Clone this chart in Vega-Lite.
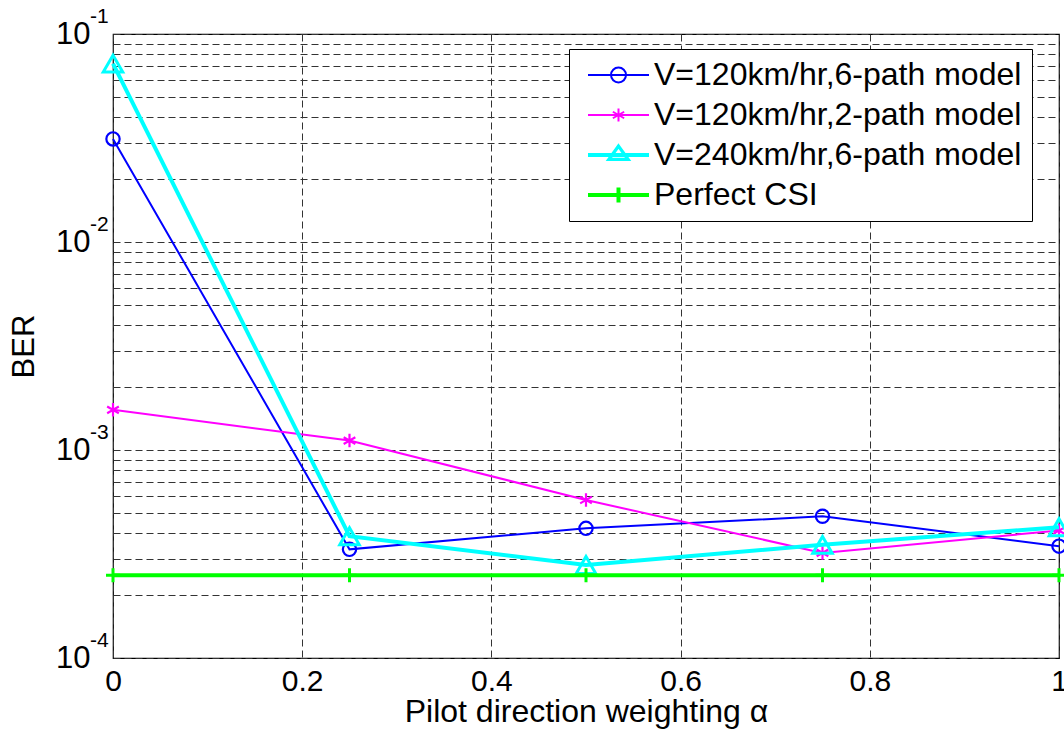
{
  "$schema": "https://vega.github.io/schema/vega-lite/v6.json",
  "autosize": "none",
  "width": 946,
  "height": 624,
  "padding": {"left": 113, "top": 34, "right": 5, "bottom": 75},
  "background": "white",
  "config": {
    "font": "Liberation Sans",
    "view": {"stroke": "black", "strokeWidth": 1.2}
  },
  "datasets": {
    "ber": [
      {"alpha": 0, "ber": 0.0313, "series": "V=120km/hr,6-path model"},
      {"alpha": 0.25, "ber": 0.000333, "series": "V=120km/hr,6-path model"},
      {"alpha": 0.5, "ber": 0.00042, "series": "V=120km/hr,6-path model"},
      {"alpha": 0.75, "ber": 0.00048, "series": "V=120km/hr,6-path model"},
      {"alpha": 1, "ber": 0.000345, "series": "V=120km/hr,6-path model"},
      {"alpha": 0, "ber": 0.00156, "series": "V=120km/hr,2-path model"},
      {"alpha": 0.25, "ber": 0.00111, "series": "V=120km/hr,2-path model"},
      {"alpha": 0.5, "ber": 0.000575, "series": "V=120km/hr,2-path model"},
      {"alpha": 0.75, "ber": 0.00032, "series": "V=120km/hr,2-path model"},
      {"alpha": 1, "ber": 0.00041, "series": "V=120km/hr,2-path model"},
      {"alpha": 0, "ber": 0.072, "series": "V=240km/hr,6-path model"},
      {"alpha": 0.25, "ber": 0.000385, "series": "V=240km/hr,6-path model"},
      {"alpha": 0.5, "ber": 0.00028, "series": "V=240km/hr,6-path model"},
      {"alpha": 0.75, "ber": 0.00035, "series": "V=240km/hr,6-path model"},
      {"alpha": 1, "ber": 0.000425, "series": "V=240km/hr,6-path model"},
      {"alpha": 0, "ber": 0.00025, "series": "Perfect CSI"},
      {"alpha": 0.25, "ber": 0.00025, "series": "Perfect CSI"},
      {"alpha": 0.5, "ber": 0.00025, "series": "Perfect CSI"},
      {"alpha": 0.75, "ber": 0.00025, "series": "Perfect CSI"},
      {"alpha": 1, "ber": 0.00025, "series": "Perfect CSI"}
    ],
    "exps": [
      {"alpha": 0, "ber": 0.1, "e": "-1"},
      {"alpha": 0, "ber": 0.01, "e": "-2"},
      {"alpha": 0, "ber": 0.001, "e": "-3"},
      {"alpha": 0, "ber": 0.0001, "e": "-4"}
    ]
  },
  "data": {"name": "ber"},
  "encoding": {
    "x": {
      "field": "alpha", "type": "quantitative",
      "scale": {"domain": [0, 1], "nice": false, "zero": false},
      "axis": {
        "title": "Pilot direction weighting α",
        "values": [0, 0.2, 0.4, 0.6, 0.8, 1],
        "format": "~g",
        "domain": false,
        "ticks": false,
        "labelPadding": 8,
        "labelFontSize": 30,
        "labelColor": "black",
        "labelFlush": false,
        "labelBaseline": "top",
        "titleFontSize": 32,
        "titleFontWeight": "normal",
        "titleColor": "black",
        "titlePadding": 0,
        "grid": true,
        "gridColor": "#333333",
        "gridDash": [7, 4],
        "gridWidth": 1
      }
    },
    "y": {
      "field": "ber", "type": "quantitative",
      "scale": {"type": "log", "domain": [0.0001, 0.1], "nice": false},
      "axis": {
        "title": "BER",
        "values": [0.0001, 0.0002, 0.0003, 0.0004, 0.0005, 0.0006, 0.0007, 0.0008, 0.0009, 0.001, 0.002, 0.003, 0.004, 0.005, 0.006, 0.007, 0.008, 0.009, 0.01, 0.02, 0.03, 0.04, 0.05, 0.06, 0.07, 0.08, 0.09, 0.1],
        "labelExpr": "abs(log(datum.value)/LN10 - round(log(datum.value)/LN10)) < 0.001 ? '10' : ''",
        "domain": false,
        "ticks": false,
        "labelPadding": 23,
        "labelFontSize": 31,
        "labelColor": "black",
        "labelFlush": false,
        "labelBaseline": "middle",
        "titleFontSize": 31,
        "titleFontWeight": "normal",
        "titleColor": "black",
        "titlePadding": 15,
        "grid": true,
        "gridColor": "#333333",
        "gridDash": [7, 4],
        "gridWidth": 1
      }
    }
  },
  "layer": [
    {
      "transform": [{"filter": "datum.series === 'V=120km/hr,6-path model'"}],
      "mark": {"type": "line", "clip": false, "stroke": "#0000ff", "strokeWidth": 2,
        "point": {"shape": "circle", "filled": false, "size": 177, "stroke": "#0000ff", "strokeWidth": 2.2}}
    },
    {
      "transform": [{"filter": "datum.series === 'V=120km/hr,2-path model'"}],
      "mark": {"type": "line", "clip": false, "stroke": "#ff00ff", "strokeWidth": 2,
        "point": {"shape": "M0,-1L0,1M-0.87,-0.5L0.87,0.5M-0.87,0.5L0.87,-0.5", "filled": false, "size": 180, "stroke": "#ff00ff", "strokeWidth": 2.2}}
    },
    {
      "transform": [{"filter": "datum.series === 'V=240km/hr,6-path model'"}],
      "mark": {"type": "line", "clip": false, "stroke": "#00ffff", "strokeWidth": 4,
        "point": {"shape": "triangle-up", "filled": false, "size": 380, "stroke": "#00ffff", "strokeWidth": 3}}
    },
    {
      "transform": [{"filter": "datum.series === 'Perfect CSI'"}],
      "mark": {"type": "line", "clip": false, "stroke": "#00ff00", "strokeWidth": 4,
        "point": {"shape": "M-1,0L1,0M0,-1L0,1", "filled": false, "size": 196, "stroke": "#00ff00", "strokeWidth": 3}}
    },
    {
      "mark": {"type": "point", "filled": false, "opacity": 0},
      "encoding": {
        "color": {
          "field": "series", "type": "nominal",
          "scale": {"domain": ["V=120km/hr,6-path model", "V=120km/hr,2-path model", "V=240km/hr,6-path model", "Perfect CSI"], "range": ["#0000ff", "#ff00ff", "#00ffff", "#00ff00"]},
          "legend": {
            "title": null,
            "orient": "none",
            "legendX": 456,
            "legendY": 15,
            "padding": 10,
            "strokeColor": "black",
            "fillColor": "white",
            "symbolSize": 100,
            "symbolOpacity": 1,
            "symbolStrokeWidth": 2,
            "labelFontSize": 32,
            "labelColor": "black",
            "labelOffset": 43,
            "labelLimit": 600,
            "rowPadding": 8
          }
        },
        "shape": {
          "field": "series", "type": "nominal",
          "scale": {"domain": ["V=120km/hr,6-path model", "V=120km/hr,2-path model", "V=240km/hr,6-path model", "Perfect CSI"], "range": [
            "M-1.4,0L10.8,0M6.2,0A1.5,1.5 0 1,0 3.2,0A1.5,1.5 0 1,0 6.2,0",
            "M-1.4,0L10.8,0M4.7,-1.3L4.7,1.3M3.57,-0.65L5.83,0.65M3.57,0.65L5.83,-0.65",
            "M-1.4,-0.2L10.8,-0.2M-1.4,0.2L10.8,0.2M4.7,-2L6.87,1L2.53,1ZM4.7,-1.55L6.35,0.75L3.05,0.75Z",
            "M-1.4,-0.2L10.8,-0.2M-1.4,0.2L10.8,0.2M4.5,-1.5L4.5,1.5M4.9,-1.5L4.9,1.5"
          ]}
        }
      }
    },
    {
      "data": {"name": "exps"},
      "mark": {"type": "text", "align": "left", "baseline": "middle", "dx": -23, "dy": -17, "fontSize": 21, "color": "black", "font": "Liberation Sans"},
      "encoding": {"text": {"field": "e", "type": "nominal"}}
    }
  ]
}
